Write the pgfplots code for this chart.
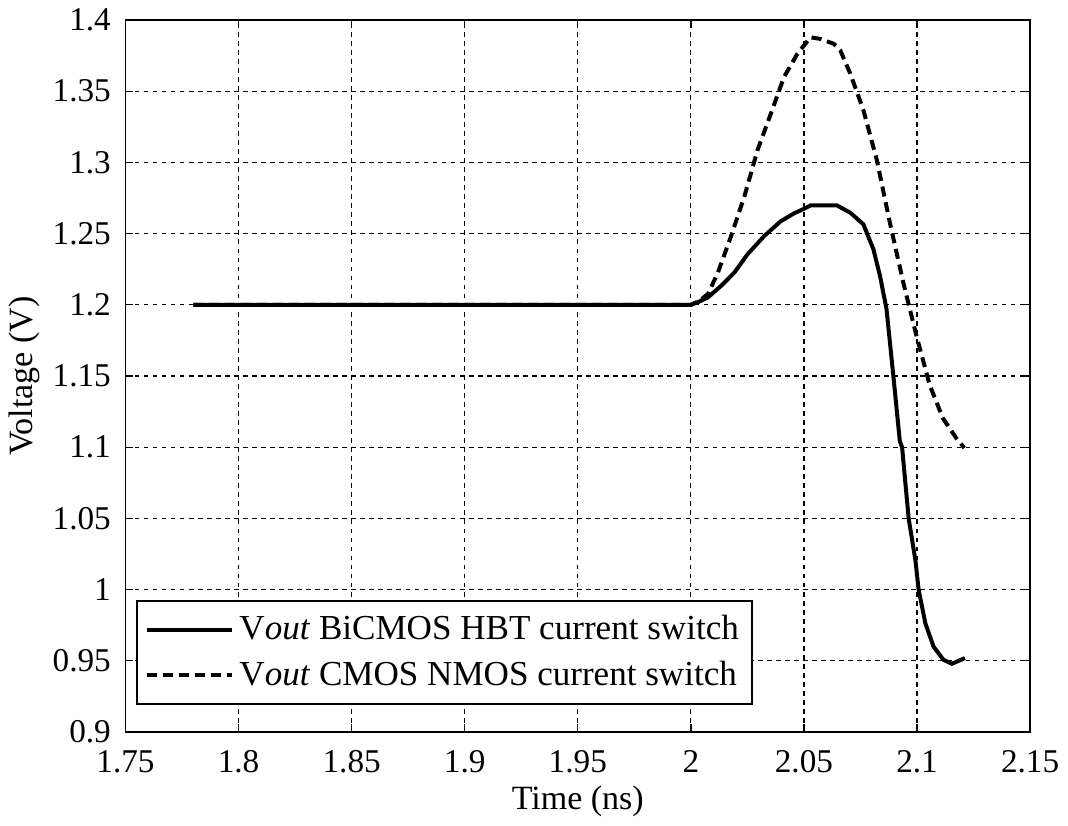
\documentclass[border=0pt]{standalone}
\usepackage{pgfplots}
\pgfplotsset{compat=1.18}
\usepackage{fontspec}
\setmainfont{Liberation Serif}
\begin{document}
\begin{tikzpicture}
\begin{axis}[
  scale only axis,
  width=340.5pt, height=268pt,
  xmin=1.75, xmax=2.15, ymin=0.9, ymax=1.4,
  xtick={1.75,1.8,...,2.151},
  ytick={0.9,0.95,...,1.401},
  xticklabels={1.75,1.8,1.85,1.9,1.95,2,2.05,2.1,2.15},
  yticklabels={0.9,0.95,1,1.05,1.1,1.15,1.2,1.25,1.3,1.35,1.4},
  tick align=inside,
  major tick length=3pt,
  tick style={black, line width=0.5pt},
  axis line style={black, line width=0.6pt},
  grid=major,
  major grid style={black, line width=0.45pt, dash pattern=on 1.8pt off 1.6pt},
  ticklabel style={font=\fontsize{12.5}{14}\selectfont},
  xticklabel style={yshift=-3.5pt},
  yticklabel style={xshift=-2pt},
  /pgf/number format/assume math mode=true,
  xlabel={Time (ns)},
  ylabel={Voltage (V)},
  label style={font=\fontsize{12.8}{15}\selectfont},
  xlabel style={yshift=2pt},
  ylabel style={yshift=-2pt},
  legend style={
    at={(rel axis cs:0.012,0.038)}, anchor=south west,
    draw=black, line width=0.6pt,
    font=\fontsize{13.2}{15}\selectfont,
    row sep=2.5pt, inner xsep=3pt, inner ysep=3.5pt,
    legend cell align=left,
  },
  legend image code/.code={\draw[#1] (0pt,0pt) -- (32pt,0pt);},
]
\addplot[black, line width=1.5pt] coordinates {
(1.78,1.2) (1.9,1.2) (2.0,1.2) (2.0032,1.2019) (2.0076,1.2053) (2.0135,1.2135)
(2.0193,1.2228) (2.0251,1.2356) (2.0325,1.2484) (2.0398,1.2588) (2.0456,1.2642)
(2.05,1.2674) (2.0529,1.2698) (2.0646,1.2698) (2.0705,1.2647) (2.0763,1.2565)
(2.0807,1.2391) (2.0836,1.2205) (2.0865,1.1972) (2.0895,1.1507) (2.0924,1.1042)
(2.0934,1.1) (2.0963,1.05) (2.0993,1.0205) (2.1007,1.0) (2.1037,0.9763)
(2.1073,0.96) (2.1117,0.9507) (2.1154,0.9479) (2.1212,0.9519)
};
\addlegendentry{V\textit{out} BiCMOS HBT current switch}
\addplot[black, line width=1.5pt, dash pattern=on 3.8pt off 2.2pt] coordinates {
(1.78,1.2) (1.9,1.2) (2.0,1.2) (2.0035,1.2025) (2.0076,1.2077) (2.012,1.2228)
(2.0178,1.2484) (2.0237,1.2763) (2.0295,1.3088) (2.0354,1.3344) (2.0412,1.36)
(2.0471,1.3763) (2.0529,1.3879) (2.0573,1.3867) (2.0632,1.3833) (2.0661,1.3786)
(2.0705,1.3623) (2.0763,1.3367) (2.0822,1.3019) (2.088,1.2577) (2.0939,1.2158)
(2.0997,1.1786) (2.1056,1.1437) (2.1114,1.1205) (2.1173,1.1065) (2.1209,1.0995)
};
\addlegendentry{V\textit{out} CMOS NMOS current switch}
\end{axis}
\end{tikzpicture}
\end{document}
